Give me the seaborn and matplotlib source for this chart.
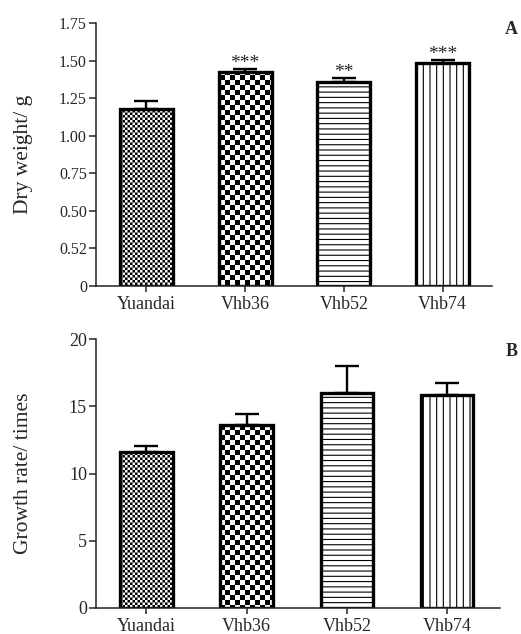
import numpy as np
import pandas as pd
import matplotlib
matplotlib.use("Agg")
import matplotlib.pyplot as plt
import matplotlib.hatch as mhatch
from matplotlib.path import Path
import seaborn as sns

# ---------------- data ----------------
strains = ["Yuandai", "Vhb36", "Vhb52", "Vhb74"]
dry_weight = [1.18, 1.425, 1.355, 1.487]
dry_weight_err = [0.048, 0.018, 0.030, 0.014]
dry_sig = ["", "***", "**", "***"]
growth_rate = [11.6, 13.6, 15.95, 15.8]
growth_rate_err = [0.45, 0.85, 2.05, 0.92]
dry_ticks = [0, 0.25, 0.5, 0.75, 1.0, 1.25, 1.5, 1.75]
dry_ticklabels = ["0", "0.52", "0.50", "0.75", "1.00", "1.25", "1.50", "1.75"]
growth_ticks = [0, 5, 10, 15, 20]
growth_ticklabels = ["0", "5", "10", "15", "20"]
bar_hatches = ["o", "O", "-", "|"]

# ---------------- custom hatch patterns ----------------
HATCH_LW = 0.8  # points
plt.rcParams["hatch.linewidth"] = HATCH_LW
plt.rcParams["hatch.color"] = "black"


class HLines(mhatch.HorizontalHatch):
    def __init__(self, hatch, density):
        self.num_lines = hatch.count("-") * 19
        self.num_vertices = self.num_lines * 2


class VLines(mhatch.VerticalHatch):
    def __init__(self, hatch, density):
        self.num_lines = hatch.count("|") * 15
        self.num_vertices = self.num_lines * 2


class _Checker(mhatch.HatchPatternBase):
    char = "o"
    cells = 40

    def __init__(self, hatch, density):
        self.n = hatch.count(self.char) * self.cells
        self.num_vertices = (self.n * self.n // 2) * 5

    def set_vertices_and_codes(self, vertices, codes):
        n = self.n
        c = 1.0 / n
        s = (HATCH_LW * 100 / 72.0) / 2.0 / 100.0
        verts = []
        for i in range(n):
            for j in range(n):
                if (i + j) % 2 == 0:
                    x0, y0 = i * c + s, j * c + s
                    x1, y1 = (i + 1) * c - s, (j + 1) * c - s
                    verts += [(x0, y0), (x1, y0), (x1, y1), (x0, y1), (x0, y0)]
        vertices[:] = np.array(verts)
        codes[:] = [Path.MOVETO, Path.LINETO, Path.LINETO, Path.LINETO,
                    Path.CLOSEPOLY] * (n * n // 2)


class SmallChecker(_Checker):
    char = "o"
    cells = 40


class LargeChecker(_Checker):
    char = "O"
    cells = 20


mhatch._hatch_types = [HLines, VLines, mhatch.NorthEastHatch,
                       mhatch.SouthEastHatch, SmallChecker, LargeChecker,
                       mhatch.SmallFilledCircles, mhatch.Stars]

# ---------------- style ----------------
sns.set_style("ticks")
plt.rcParams["font.family"] = ["Liberation Serif", "DejaVu Serif"]
plt.rcParams["axes.linewidth"] = 1.1
plt.rcParams["xtick.major.width"] = 1.1
plt.rcParams["ytick.major.width"] = 1.1
plt.rcParams["xtick.major.size"] = 4.5
plt.rcParams["ytick.major.size"] = 5
plt.rcParams["axes.edgecolor"] = "#222222"

W, H = 521, 634
fig = plt.figure(figsize=(W / 100, H / 100), dpi=100)
axA = fig.add_axes([96 / W, 1 - 286 / H, 396 / W, 263 / H])
axB = fig.add_axes([96 / W, 1 - 608 / H, 404 / W, 269 / H])

dfA = pd.DataFrame({"strain": strains, "value": dry_weight})
dfB = pd.DataFrame({"strain": strains, "value": growth_rate})


def draw(ax, df, err, width, ytick_size):
    sns.barplot(data=df, x="strain", y="value", color="white",
                edgecolor="black", linewidth=2.4, width=width,
                errorbar=None, saturation=1, ax=ax, zorder=2)
    for patch, h in zip(ax.patches, bar_hatches):
        patch.set_hatch(h)
    xpos = np.arange(len(df))
    ax.errorbar(xpos, df["value"], yerr=[np.zeros(len(err)), err],
                fmt="none", ecolor="black", elinewidth=1.7, capsize=8.6,
                capthick=1.7, zorder=3)
    sns.despine(ax=ax)
    ax.set_xlabel("")
    ax.tick_params(axis="x", labelsize=13, pad=2.5)
    ax.tick_params(axis="y", labelsize=ytick_size, pad=1.5)


draw(axA, dfA, dry_weight_err, 0.536, 11.5)
axA.set_ylim(0, 1.75)
axA.set_yticks(dry_ticks)
axA.set_yticklabels(dry_ticklabels)
axA.set_xlim(-0.51, 3.5)
axA.set_ylabel("Dry weight/ g", fontsize=15.5)
axA.yaxis.set_label_coords(-0.158, 0.5)
for i, s in enumerate(dry_sig):
    if s:
        axA.annotate(s, (i, dry_weight[i] + dry_weight_err[i]),
                     xytext=(0, -2), textcoords="offset points",
                     ha="center", va="bottom", fontsize=14)

draw(axB, dfB, growth_rate_err, 0.523, 13)
axB.set_ylim(0, 20)
axB.set_yticks(growth_ticks)
axB.set_yticklabels(growth_ticklabels)
axB.set_xlim(-0.503, 3.526)
axB.set_ylabel("Growth rate/ times", fontsize=15.5)
axB.yaxis.set_label_coords(-0.155, 0.5)

fig.text(511 / W, 1 - 29 / H, "A", fontsize=13, fontweight="bold",
         ha="center", va="center")
fig.text(512 / W, 1 - 352 / H, "B", fontsize=13, fontweight="bold",
         ha="center", va="center")

fig.savefig("out.png", dpi=100, facecolor="white")
